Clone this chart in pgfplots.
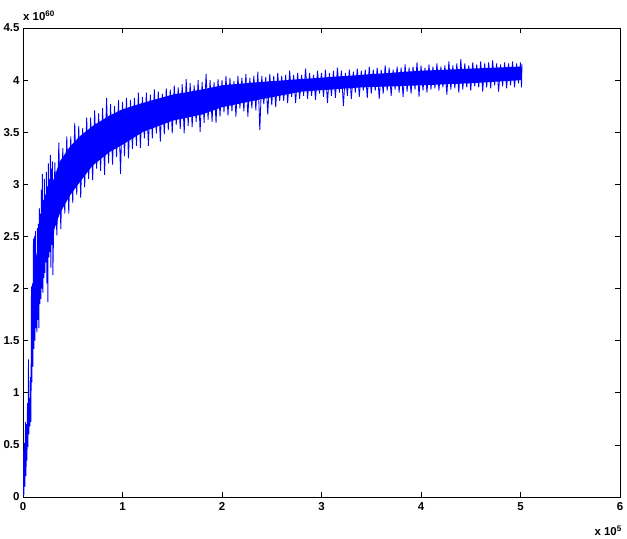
\documentclass[border=0pt]{standalone}
\usepackage{fontspec}
\setmainfont{Liberation Sans}
\usepackage{pgfplots}
\pgfplotsset{compat=1.18}
\begin{document}
\begin{tikzpicture}[x=1bp,y=1bp]
\path[use as bounding box] (0,0) rectangle (627,539);
\begin{axis}[
  at={(23bp,42bp)}, anchor=south west,
  width=597bp, height=469bp, scale only axis,
  xmin=0, xmax=6, ymin=0, ymax=4.5,
  xtick={0,1,2,3,4,5,6},
  ytick={0,0.5,1,1.5,2,2.5,3,3.5,4,4.5},
  tick align=inside,
  major tick length=5bp,
  axis line style={black, line width=0.7bp},
  tick style={black, line width=0.6bp},
  ticklabel style={font=\fontsize{11.5}{13}\selectfont\bfseries},
  /pgf/number format/assume math mode=true,
  scaled ticks=false,
  xticklabel style={yshift=-2bp},
]
% solid core of the band
\addplot[fill=blue, draw=none] coordinates {
(0.1,1.95) (0.12,2.25) (0.15,2.4) (0.2,2.7) (0.25,2.9) (0.3,3.03) (0.37,3.22)
(0.47,3.36) (0.57,3.46) (0.7,3.56) (0.87,3.66) (1.0,3.72) (1.2,3.78) (1.5,3.86)
(1.8,3.91) (2.0,3.95) (2.36,3.98) (2.8,4.01) (3.4,4.05) (4.0,4.09) (4.5,4.11) (5.01,4.13)
(5.01,4.0) (4.5,3.97) (4.0,3.95) (3.4,3.93) (2.8,3.89) (2.36,3.81) (2.0,3.74)
(1.8,3.67) (1.5,3.61) (1.2,3.5) (1.0,3.38) (0.87,3.31) (0.7,3.18) (0.57,3.02)
(0.47,2.89) (0.37,2.72) (0.3,2.53) (0.25,2.38) (0.2,2.18) (0.15,1.88) (0.12,1.68) (0.1,1.52)
};
% noisy trace
\addplot[blue, line width=0.85bp] coordinates {
(0,0) (0.005,0.45) (0.01,0.02) (0.015,0.52) (0.02,0.1) (0.025,0.72) (0.03,0.2)
(0.035,0.7) (0.04,0.35) (0.045,0.9) (0.05,0.48) (0.055,1.32) (0.06,0.6) (0.065,0.95)
(0.07,0.68) (0.075,1.15) (0.08,0.72) (0.085,2.02) (0.09,1.1) (0.095,2.05) (0.1,1.25)
(0.105,2.48) (0.11,1.42) (0.115,2.5) (0.12,1.5) (0.125,2.55) (0.13,1.62) (0.135,2.3)
(0.14,1.58) (0.145,2.58) (0.15,1.7) (0.155,2.62) (0.16,1.62) (0.165,2.77) (0.17,1.85)
(0.175,2.72) (0.18,1.9) (0.185,2.95) (0.19,2.0) (0.195,3.1) (0.2,1.96) (0.205,2.85)
(0.21,2.1) (0.215,3.05) (0.22,2.15) (0.225,2.9) (0.23,2.25) (0.235,3.12) (0.24,2.05)
(0.245,2.98) (0.25,1.87) (0.255,3.2) (0.26,2.3) (0.265,3.05) (0.27,2.35) (0.275,3.28)
(0.28,2.2) (0.285,3.15) (0.29,2.42) (0.295,3.22) (0.3,2.13)
(0.32,3.21) (0.34,2.51) (0.36,3.40) (0.38,2.57) (0.40,3.35) (0.42,2.72) (0.44,3.46)
(0.46,2.72) (0.48,3.46) (0.50,2.82) (0.52,3.59) (0.54,2.90) (0.56,3.56) (0.58,2.87)
(0.60,3.54) (0.62,2.97) (0.64,3.64) (0.66,3.05) (0.68,3.64) (0.70,3.04)
(0.72,3.71) (0.74,3.15) (0.76,3.68) (0.78,3.13) (0.80,3.73) (0.82,3.09) (0.84,3.83)
(0.86,3.20) (0.88,3.77) (0.90,3.19) (0.92,3.75) (0.94,3.26) (0.96,3.81) (0.98,3.10)
(1.00,3.79)
(1.02,3.27) (1.04,3.83) (1.06,3.25) (1.08,3.81) (1.10,3.34) (1.12,3.83) (1.14,3.37)
(1.16,3.88) (1.18,3.35) (1.20,3.84) (1.22,3.44) (1.24,3.88) (1.26,3.37) (1.28,3.86)
(1.30,3.44) (1.32,3.91) (1.34,3.49) (1.36,3.89) (1.38,3.41) (1.40,3.87) (1.42,3.48)
(1.44,3.92) (1.46,3.52) (1.48,3.91) (1.50,3.49)
(1.52,3.95) (1.54,3.57) (1.56,3.93) (1.58,3.53) (1.60,3.96) (1.62,3.49) (1.64,4.01)
(1.66,3.56) (1.68,3.97) (1.70,3.55) (1.72,3.95) (1.74,3.60) (1.76,4.00) (1.78,3.50)
(1.80,3.98) (1.82,3.59) (1.84,4.06) (1.86,3.62) (1.88,4.00) (1.90,3.60) (1.92,3.98)
(1.94,3.59) (1.96,4.01) (1.98,3.65) (2.00,4.00)
(2.02,3.69) (2.04,4.04) (2.06,3.66) (2.08,4.02) (2.10,3.70) (2.12,3.99) (2.14,3.65)
(2.16,4.04) (2.18,3.73) (2.20,4.02) (2.22,3.70) (2.24,4.06) (2.26,3.65) (2.28,4.02)
(2.30,3.73) (2.32,4.04) (2.34,3.71) (2.36,4.08) (2.38,3.52) (2.40,4.04) (2.42,3.77)
(2.44,4.03) (2.46,3.67) (2.48,4.06) (2.50,3.76) (2.52,4.04) (2.54,3.74) (2.56,4.07)
(2.58,3.80) (2.60,4.04) (2.62,3.80) (2.64,4.05) (2.66,3.78) (2.68,4.09) (2.70,3.84)
(2.72,4.05) (2.74,3.78) (2.76,4.07) (2.78,3.82) (2.80,4.05)
(2.82,3.85) (2.84,4.11) (2.86,3.82) (2.88,4.07) (2.90,3.85) (2.92,4.05) (2.94,3.81)
(2.96,4.09) (2.98,3.87) (3.00,4.07) (3.02,3.84) (3.04,4.10) (3.06,3.78) (3.08,4.07)
(3.10,3.85) (3.12,4.09) (3.14,3.83) (3.16,4.12) (3.18,3.88) (3.20,4.09) (3.22,3.75)
(3.24,4.07) (3.26,3.85) (3.28,4.10) (3.30,3.82) (3.32,4.08) (3.34,3.88) (3.36,4.11)
(3.38,3.84) (3.40,4.09)
(3.42,3.90) (3.44,4.10) (3.46,3.83) (3.48,4.13) (3.50,3.87) (3.52,4.10) (3.54,3.90)
(3.56,4.12) (3.58,3.82) (3.60,4.10) (3.62,3.87) (3.64,4.14) (3.66,3.90) (3.68,4.12)
(3.70,3.85) (3.72,4.10) (3.74,3.91) (3.76,4.13) (3.78,3.88) (3.80,4.12) (3.82,3.84)
(3.84,4.15) (3.86,3.89) (3.88,4.12) (3.90,3.87) (3.92,4.13) (3.94,3.91) (3.96,4.17)
(3.98,3.84) (4.00,4.14)
(4.02,3.90) (4.04,4.12) (4.06,3.88) (4.08,4.15) (4.10,3.91) (4.12,4.13) (4.14,3.92)
(4.16,4.16) (4.18,3.90) (4.20,4.13) (4.22,3.93) (4.24,4.14) (4.26,3.86) (4.28,4.18)
(4.30,3.91) (4.32,4.14) (4.34,3.92) (4.36,4.16) (4.38,3.88) (4.40,4.20) (4.42,3.91)
(4.44,4.16) (4.46,3.93) (4.48,4.14) (4.50,3.90)
(4.52,4.17) (4.54,3.94) (4.56,4.15) (4.58,3.93) (4.60,4.18) (4.62,3.89) (4.64,4.16)
(4.66,3.93) (4.68,4.17) (4.70,3.92) (4.72,4.19) (4.74,3.95) (4.76,4.16) (4.78,3.89)
(4.80,4.15) (4.82,3.94) (4.84,4.17) (4.86,3.92) (4.88,4.16) (4.90,3.95) (4.92,4.18)
(4.94,3.93) (4.96,4.16) (4.98,3.97) (5.00,4.17) (5.01,3.93) (5.015,4.15)
};
\end{axis}
\node[anchor=base west, inner sep=0pt, font=\fontsize{11.5}{13}\selectfont\bfseries]
  at (23,518) {x 10\textsuperscript{60}};
\node[anchor=base east, inner sep=0pt, font=\fontsize{11.5}{13}\selectfont\bfseries]
  at (622,3) {x 10\textsuperscript{5}};
\end{tikzpicture}
\end{document}
